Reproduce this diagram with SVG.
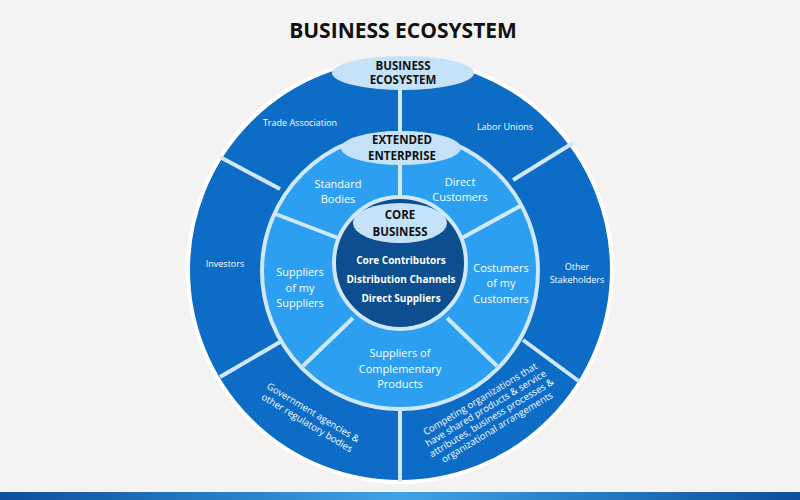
<svg xmlns="http://www.w3.org/2000/svg" width="800" height="500" viewBox="0 0 800 500">
<defs>
<style>
.t{font-family:"Open Sans","Liberation Sans",sans-serif;fill:#fff;text-anchor:middle}
.h{font-family:"Open Sans","Liberation Sans",sans-serif;font-weight:bold;fill:#111;text-anchor:middle}
.div{stroke:#cfe8fb;stroke-width:4;fill:none}
.ell{fill:#c6e2f8}
</style>
<linearGradient id="bar" x1="0" x2="1"><stop offset="0" stop-color="#0a4f9a"/><stop offset="0.5" stop-color="#3fa3e8"/><stop offset="1" stop-color="#0a4f9a"/></linearGradient>
</defs>
<rect width="800" height="500" fill="#f3f3f3"/>
<rect y="492" width="800" height="8" fill="url(#bar)"/>
<text class="h" x="403" y="38" font-size="21">BUSINESS ECOSYSTEM</text>
<g id="outer"><circle cx="400" cy="270" r="212" fill="#0d6cc6" stroke="#ffffff" stroke-width="4"/></g>
<g id="middle"><circle cx="400" cy="271" r="138" fill="#2c9ff0" stroke="#cfe8fb" stroke-width="4"/></g>
<g id="inner"><circle cx="400" cy="263" r="66" fill="#0c4e8e" stroke="#cfe8fb" stroke-width="4"/></g>
<g id="connectors">
<line class="div" x1="400" y1="85" x2="400" y2="134"/>
<line class="div" x1="220" y1="157" x2="280" y2="189"/>
<line class="div" x1="573" y1="143" x2="513" y2="180"/>
<line class="div" x1="220" y1="377" x2="280" y2="342"/>
<line class="div" x1="580" y1="382" x2="523" y2="340"/>
<line class="div" x1="400" y1="409" x2="400" y2="482"/>
<line class="div" x1="400" y1="160" x2="400" y2="198"/>
<line class="div" x1="273" y1="213" x2="338" y2="238"/>
<line class="div" x1="522" y1="205" x2="462" y2="238"/>
<line class="div" x1="303" y1="366" x2="353" y2="318"/>
<line class="div" x1="497" y1="366" x2="447" y2="318"/>
</g>
<g id="business-ecosystem"><ellipse class="ell" cx="403" cy="73" rx="71" ry="17"/>
<text class="h" x="403" y="70" font-size="11.5">BUSINESS</text><text class="h" x="403" y="84" font-size="11.5">ECOSYSTEM</text></g>
<g id="extended-enterprise"><ellipse class="ell" cx="401" cy="148" rx="60" ry="17"/>
<text class="h" x="402" y="144" font-size="11.5">EXTENDED</text><text class="h" x="402" y="160" font-size="11.5">ENTERPRISE</text></g>
<g id="core-business"><ellipse class="ell" cx="400" cy="223" rx="47" ry="20"/>
<text class="h" x="400" y="219" font-size="11.5">CORE</text><text class="h" x="400" y="236" font-size="11.5">BUSINESS</text></g>
<g id="core-items" font-weight="bold">
<text class="t" x="401" y="264" font-size="10">Core Contributors</text>
<text class="t" x="401" y="283" font-size="10">Distribution Channels</text>
<text class="t" x="401" y="302" font-size="10">Direct Suppliers</text></g>
<g id="standard-bodies"><text class="t" x="338" y="188" font-size="11">Standard</text><text class="t" x="338" y="203" font-size="11">Bodies</text></g>
<g id="direct-customers"><text class="t" x="460" y="186" font-size="11">Direct</text><text class="t" x="460" y="201" font-size="11">Customers</text></g>
<g id="suppliers-of-suppliers"><text class="t" x="300" y="276" font-size="11">Suppliers</text><text class="t" x="300" y="292" font-size="11">of my</text><text class="t" x="300" y="307" font-size="11">Suppliers</text></g>
<g id="customers-of-customers"><text class="t" x="501" y="272" font-size="11">Costumers</text><text class="t" x="501" y="287" font-size="11">of my</text><text class="t" x="501" y="303" font-size="11">Customers</text></g>
<g id="complementary"><text class="t" x="400" y="357" font-size="11">Suppliers of</text><text class="t" x="400" y="373" font-size="11">Complementary</text><text class="t" x="400" y="388" font-size="11">Products</text></g>
<g id="trade-association"><text class="t" x="300" y="126" font-size="9">Trade Association</text></g>
<g id="labor-unions"><text class="t" x="505" y="130" font-size="9">Labor Unions</text></g>
<g id="investors"><text class="t" x="225" y="267" font-size="9">Investors</text></g>
<g id="other-stakeholders"><text class="t" x="577" y="270" font-size="9">Other</text><text class="t" x="577" y="283" font-size="9">Stakeholders</text></g>
<g id="government"><g transform="translate(310,418) rotate(31)"><text class="t" x="0" y="-3" font-size="9.5">Government agencies &amp;</text><text class="t" x="0" y="9" font-size="9.5">other regulatory bodies</text></g></g>
<g id="competing"><g transform="translate(488,412) rotate(-31)"><text class="t" x="0" y="-12" font-size="9.5">Competing organizations that</text><text class="t" x="0" y="-1" font-size="9.5">have shared products &amp; service</text><text class="t" x="0" y="10" font-size="9.5">attributes, business processes &amp;</text><text class="t" x="0" y="21" font-size="9.5">organizational arrangements</text></g></g>
</svg>
